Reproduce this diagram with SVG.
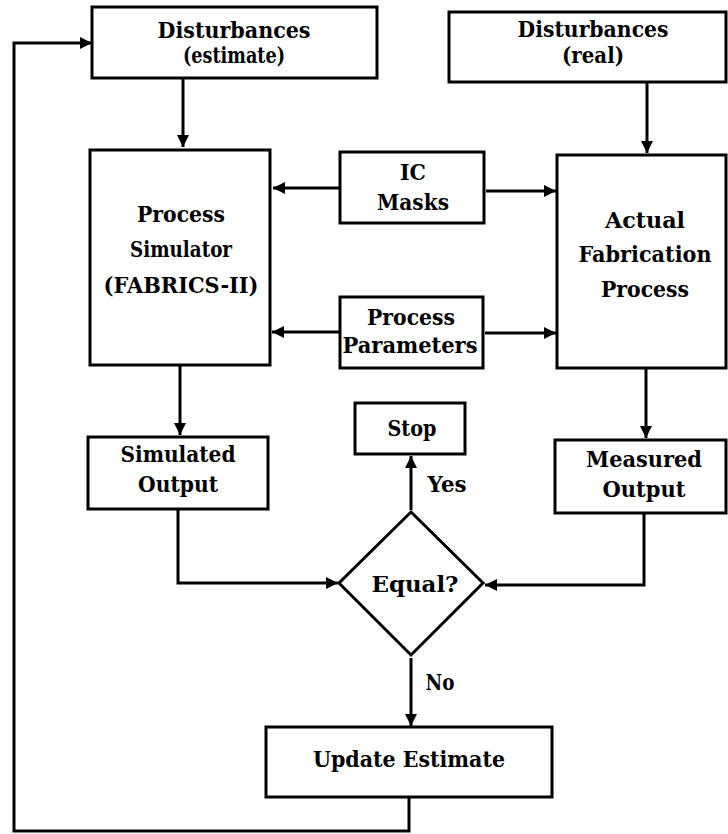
<svg xmlns="http://www.w3.org/2000/svg" width="728" height="834" viewBox="0 0 728 834">
<style>
.box{fill:#fff;stroke:#000;stroke-width:3}
.ln{fill:none;stroke:#000;stroke-width:3}
text{font-family:"DejaVu Serif","Liberation Serif",serif;font-weight:bold;font-size:23px;fill:#000;text-anchor:middle}
</style>
<defs>
<marker id="ah" markerUnits="userSpaceOnUse" markerWidth="14" markerHeight="14" viewBox="0 0 14 14" refX="13" refY="7" orient="auto">
<path d="M1,1 L13,7 L1,13 Z" fill="#000"/>
</marker>
</defs>
<rect width="728" height="834" fill="#fff"/>
<g id="connectors">
<line class="ln" x1="183" y1="78" x2="183" y2="147" marker-end="url(#ah)"/>
<line class="ln" x1="647" y1="82" x2="647" y2="153" marker-end="url(#ah)"/>
<line class="ln" x1="340" y1="188" x2="273" y2="188" marker-end="url(#ah)"/>
<line class="ln" x1="486" y1="191" x2="556" y2="191" marker-end="url(#ah)"/>
<line class="ln" x1="340" y1="332" x2="272" y2="332" marker-end="url(#ah)"/>
<line class="ln" x1="485" y1="333" x2="556" y2="333" marker-end="url(#ah)"/>
<line class="ln" x1="180" y1="365" x2="180" y2="435" marker-end="url(#ah)"/>
<line class="ln" x1="646" y1="368" x2="646" y2="438" marker-end="url(#ah)"/>
<polyline class="ln" points="178,510 178,583 338,583" marker-end="url(#ah)"/>
<polyline class="ln" points="644,514 644,585 485,585" marker-end="url(#ah)"/>
<line class="ln" x1="411" y1="510" x2="411" y2="456" marker-end="url(#ah)"/>
<line class="ln" x1="411" y1="658" x2="411" y2="726" marker-end="url(#ah)"/>
<polyline class="ln" points="409,797 409,831 14,831 14,43 92,43" marker-end="url(#ah)"/>
</g>
<g id="dist_est">
<rect class="box" x="92" y="7" width="285" height="71"/>
<text x="234" y="38" textLength="153" lengthAdjust="spacingAndGlyphs">Disturbances</text>
<text x="234" y="63" textLength="102" lengthAdjust="spacingAndGlyphs">(estimate)</text>
</g>
<g id="dist_real">
<rect class="box" x="449" y="12" width="277" height="70"/>
<text x="593" y="37" textLength="151" lengthAdjust="spacingAndGlyphs">Disturbances</text>
<text x="593" y="63" textLength="62" lengthAdjust="spacingAndGlyphs">(real)</text>
</g>
<g id="simulator">
<rect class="box" x="90" y="150" width="180" height="215"/>
<text x="181" y="222" textLength="88" lengthAdjust="spacingAndGlyphs">Process</text>
<text x="181" y="257" textLength="102" lengthAdjust="spacingAndGlyphs">Simulator</text>
<text x="181" y="293" textLength="155" lengthAdjust="spacingAndGlyphs">(FABRICS-II)</text>
</g>
<g id="ic_masks">
<rect class="box" x="340" y="152" width="144" height="71"/>
<text x="413" y="180" textLength="26" lengthAdjust="spacingAndGlyphs">IC</text>
<text x="413" y="210" textLength="72" lengthAdjust="spacingAndGlyphs">Masks</text>
</g>
<g id="params">
<rect class="box" x="340" y="297" width="143" height="71"/>
<text x="411" y="325" textLength="88" lengthAdjust="spacingAndGlyphs">Process</text>
<text x="410" y="353" textLength="135" lengthAdjust="spacingAndGlyphs">Parameters</text>
</g>
<g id="actual">
<rect class="box" x="557" y="155" width="169" height="213"/>
<text x="645" y="228" textLength="80" lengthAdjust="spacingAndGlyphs">Actual</text>
<text x="645" y="262" textLength="133" lengthAdjust="spacingAndGlyphs">Fabrication</text>
<text x="645" y="297" textLength="88" lengthAdjust="spacingAndGlyphs">Process</text>
</g>
<g id="sim_out">
<rect class="box" x="88" y="437" width="180" height="72"/>
<text x="178" y="462" textLength="115" lengthAdjust="spacingAndGlyphs">Simulated</text>
<text x="178" y="492" textLength="80" lengthAdjust="spacingAndGlyphs">Output</text>
</g>
<g id="meas_out">
<rect class="box" x="555" y="440" width="171" height="73"/>
<text x="644" y="467" textLength="116" lengthAdjust="spacingAndGlyphs">Measured</text>
<text x="644" y="497" textLength="83" lengthAdjust="spacingAndGlyphs">Output</text>
</g>
<g id="stop">
<rect class="box" x="355" y="403" width="110" height="51"/>
<text x="412" y="436" textLength="49" lengthAdjust="spacingAndGlyphs">Stop</text>
</g>
<g id="equal">
<polygon class="box" points="411,512 483,583 411,655 339,583"/>
<text x="415" y="592" textLength="87" lengthAdjust="spacingAndGlyphs">Equal?</text>
</g>
<g id="labels">
<text x="447" y="492" textLength="39" lengthAdjust="spacingAndGlyphs">Yes</text>
<text x="440" y="690" textLength="29" lengthAdjust="spacingAndGlyphs">No</text>
</g>
<g id="update">
<rect class="box" x="266" y="727" width="286" height="70"/>
<text x="409" y="767" textLength="192" lengthAdjust="spacingAndGlyphs">Update Estimate</text>
</g>
</svg>
